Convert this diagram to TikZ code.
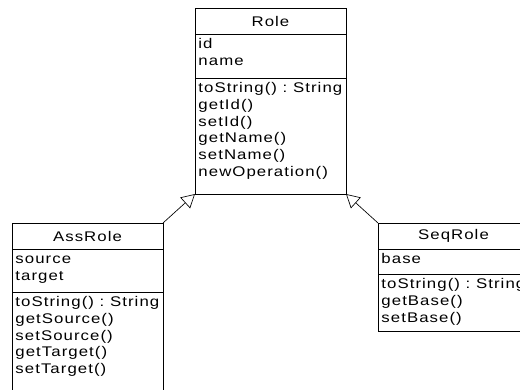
\documentclass[tikz,border=0pt]{standalone}
\usepackage{fontspec}
\setmainfont{Liberation Sans}[FakeStretch=1.2,LetterSpace=7.5]
\usetikzlibrary{positioning,arrows.meta}

\tikzset{
  classhead/.style={draw, line width=0.6pt, outer sep=0pt, inner sep=0pt,
    minimum width=113.25pt, minimum height=19.5pt, anchor=north west},
  members/.style={draw, line width=0.6pt, outer sep=0pt, inner xsep=2.6pt, inner ysep=0pt},
  inherits/.style={line width=0.5pt, -{Triangle[open, length=10pt, width=11pt]}}
}
\newcommand{\memberbox}[2]{\parbox[b][#1][t]{108.05pt}{\rule{0pt}{11pt}#2}}

\begin{document}
\begin{tikzpicture}[font=\fontsize{10.5}{12.5}\selectfont]
  \useasboundingbox (0,0) rectangle (390pt,-291.75pt);
  % Role
  \node[classhead] (roleHead) at (146.25pt,-6pt) {Role};
  \node[members, below=0pt of roleHead] (roleAttr) {\memberbox{33pt}{id\\name}};
  \node[members, below=0pt of roleAttr] (roleOps) {\memberbox{87pt}{toString()~:~String\\getId()\\setId()\\getName()\\setName()\\newOperation()}};
  % AssRole
  \node[classhead] (assHead) at (9pt,-167.25pt) {AssRole};
  \node[members, below=0pt of assHead] (assAttr) {\memberbox{32.25pt}{source\\target}};
  \node[members, below=0pt of assAttr] (assOps) {\memberbox{75pt}{toString()~:~String\\getSource()\\setSource()\\getTarget()\\setTarget()}};
  % SeqRole
  \node[classhead] (seqHead) at (283.5pt,-167.25pt) {SeqRole};
  \node[members, below=0pt of seqHead] (seqAttr) {\memberbox{18.75pt}{base}};
  \node[members, below=0pt of seqAttr] (seqOps) {\memberbox{43pt}{toString()~:~String\\getBase()\\setBase()}};
  % generalisations
  \draw[inherits] (assHead.north east) -- (roleOps.south west);
  \draw[inherits] (seqHead.north west) -- (roleOps.south east);
\end{tikzpicture}
\end{document}
